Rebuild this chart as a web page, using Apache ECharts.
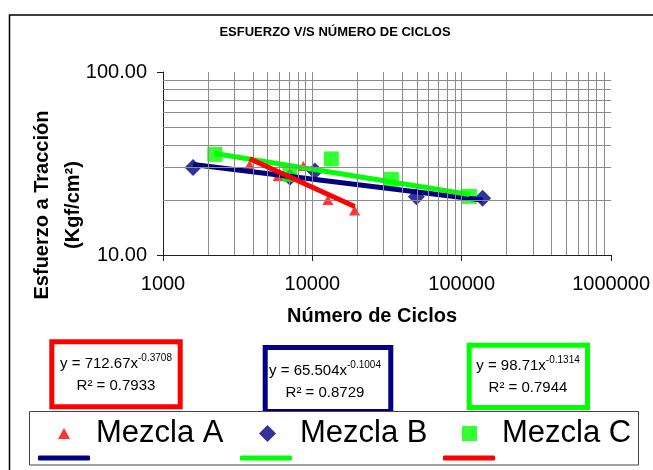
<!DOCTYPE html>
<html>
<head>
<meta charset="utf-8">
<style>
  html, body { margin: 0; padding: 0; background: #fff; }
  #chart { width: 653px; height: 470px; }
</style>
<script src="https://cdn.jsdelivr.net/npm/echarts@6/dist/echarts.min.js"></script>
</head>
<body>
<div id="chart"></div>
<script>
// Fatigue test results: tensile stress vs. number of cycles for three mixes
const cyclesA = [3800, 5900, 8700, 12700, 19200];
const stressA = [31.0, 27.0, 30.6, 20.0, 17.5];
const cyclesB = [1590, 7080, 10400, 49700, 138000];
const stressB = [30.1, 26.6, 28.8, 20.8, 20.4];
const cyclesC = [2220, 7080, 13400, 33800, 112700];
const stressC = [35.5, 27.5, 33.5, 25.9, 20.9];

// Power-law fits y = a * x^b reported for each mix
const mixNames = ['Mezcla A', 'Mezcla B', 'Mezcla C'];
const fitCoef = [712.67, 65.504, 98.71];
const fitExp = [-0.3708, -0.1004, -0.1314];
const fitR2 = ['0.7933', '0.8729', '0.7944'];

// Axis ranges / tick labels
const xTicks = [1000, 10000, 100000, 1000000];
const yTicks = [10, 100];

const FONT = "'Liberation Sans', Arial, sans-serif";
const RED = '#ff0000', NAVY = '#000080', GREEN = '#00ff00';

function pairs(xs, ys) { return xs.map((x, i) => [x, ys[i]]); }

// Trend line over the x range of a mix, from its fitted coefficients
function trend(xs, k) {
  const lo = Math.min(...xs), hi = Math.max(...xs);
  return [lo, hi].map(x => [x, fitCoef[k] * Math.pow(x, fitExp[k])]);
}

// Logarithmic grid lines (2..9 within each decade)
const xGrid = [];
for (let d = xTicks[0]; d < xTicks[xTicks.length - 1]; d *= 10) {
  for (let m = 1; m <= 9; m++) { if (d * m > xTicks[0]) xGrid.push(d * m); }
}
const yGrid = [];
for (let m = 2; m <= 9; m++) yGrid.push(yTicks[0] * m);

function eqText(k) {
  return '{b|y = ' + fitCoef[k] + 'x}{s|' + fitExp[k] + '}\n{b|R² = ' + fitR2[k] + '}';
}
const eqRich = {
  b: { fontSize: 15, lineHeight: 22, fontFamily: FONT, color: '#000' },
  s: { fontSize: 10, lineHeight: 10, verticalAlign: 'top', fontFamily: FONT, color: '#000' }
};

const legendText = (padLeft) => ({ fontSize: 31, fontFamily: FONT, color: '#000', padding: [0, 0, 0, padLeft] });
const lineLegend = (name, color, left) => ({
  data: [{ name: name, itemStyle: { color: color } }], left: left, top: 455.5, padding: 0, z: 10,
  icon: 'roundRect', itemWidth: 52, itemHeight: 5, formatter: () => '', textStyle: { fontSize: 4 }
});

const chart = echarts.init(document.getElementById('chart'), null, { renderer: 'canvas' });

const option = {
  animation: false,
  backgroundColor: '#fff',
  title: {
    text: 'ESFUERZO V/S NÚMERO DE CICLOS',
    left: 335, top: 26, padding: 0, textAlign: 'center',
    textStyle: { fontSize: 13, fontWeight: 'bold', fontFamily: FONT, color: '#000' }
  },
  grid: { left: 163, right: 41, top: 72, bottom: 215, containLabel: false },
  xAxis: {
    type: 'log', logBase: 10, min: xTicks[0], max: xTicks[xTicks.length - 1],
    name: 'Número de Ciclos', nameLocation: 'middle', nameGap: 51,
    nameTextStyle: { fontSize: 20, fontWeight: 'bold', fontFamily: FONT, color: '#000', padding: [0, 30, 0, 0] },
    axisLine: { lineStyle: { color: '#222', width: 1 } },
    axisTick: { show: true, length: 6, lineStyle: { color: '#222' } },
    axisLabel: { fontSize: 20, fontFamily: FONT, color: '#000', margin: 19,
      formatter: v => String(Math.round(v)) },
    splitLine: { show: false },
    minorTick: { show: false }
  },
  yAxis: {
    type: 'log', logBase: 10, min: yTicks[0], max: yTicks[yTicks.length - 1],
    axisLine: { show: true, lineStyle: { color: '#222', width: 1 } },
    axisTick: { show: true, length: 6, lineStyle: { color: '#222' } },
    axisLabel: { fontSize: 20, fontFamily: FONT, color: '#000', margin: 16,
      formatter: v => Number(v).toFixed(2) },
    splitLine: { show: false }
  },
  legend: [
    { data: ['Mezcla A'], left: 58, top: 418, padding: 0, z: 10, itemWidth: 12, itemHeight: 11,
      textStyle: legendText(21) },
    { data: ['Mezcla B'], left: 259, top: 418, padding: 0, z: 10, itemWidth: 17, itemHeight: 17,
      textStyle: legendText(19) },
    { data: ['Mezcla C'], left: 462, top: 418, padding: 0, z: 10, itemWidth: 15, itemHeight: 15,
      textStyle: legendText(20) },
    lineLegend('Potencial (Mezcla B)', NAVY, 38),
    lineLegend('Potencial (Mezcla C)', GREEN, 240),
    lineLegend('Potencial (Mezcla A)', RED, 443)
  ],
  graphic: [
    // outer chart frame
    { type: 'rect', shape: { x: 9.5, y: 15, width: 700, height: 500 },
      style: { fill: 'none', stroke: '#000', lineWidth: 1.5 }, silent: true, z: 0 },
    // y axis title
    { type: 'text', x: 58, y: 205, rotation: Math.PI / 2, silent: true,
      style: { text: 'Esfuerzo a Tracción\n(Kgf/cm²)', font: 'bold 20px ' + FONT, fill: '#000',
        align: 'center', verticalAlign: 'middle', lineHeight: 31 } },
    // fit equation boxes
    { type: 'rect', shape: { x: 51.8, y: 341.8, width: 128.4, height: 65 },
      style: { fill: '#fff', stroke: RED, lineWidth: 5 }, silent: true, z: 1 },
    { type: 'text', x: 116, y: 375, silent: true, z: 2,
      style: { text: eqText(0), rich: eqRich, align: 'center', verticalAlign: 'middle' } },
    { type: 'rect', shape: { x: 265.2, y: 347.5, width: 125.6, height: 64 },
      style: { fill: '#fff', stroke: NAVY, lineWidth: 5 }, silent: true, z: 1 },
    { type: 'text', x: 325, y: 382, silent: true, z: 2,
      style: { text: eqText(1), rich: eqRich, align: 'center', verticalAlign: 'middle' } },
    { type: 'rect', shape: { x: 469.2, y: 345.2, width: 118.3, height: 62.3 },
      style: { fill: '#fff', stroke: GREEN, lineWidth: 5 }, silent: true, z: 1 },
    { type: 'text', x: 528, y: 377, silent: true, z: 2,
      style: { text: eqText(2), rich: eqRich, align: 'center', verticalAlign: 'middle' } },
    // legend frame
    { type: 'rect', shape: { x: 29.5, y: 411.5, width: 609, height: 53.5 },
      style: { fill: '#fff', stroke: '#444', lineWidth: 1 }, silent: true, z: 3 }
  ],
  series: [
    {
      name: 'grid', type: 'line', data: [], silent: true, z: 1,
      markLine: {
        silent: true, symbol: ['none', 'none'], label: { show: false },
        lineStyle: { color: '#8c8c8c', width: 1, type: 'solid' },
        emphasis: { disabled: true },
        data: xGrid.map(v => ({ xAxis: v })).concat(yGrid.map(v => ({ yAxis: v })))
      }
    },
    { name: mixNames[0], type: 'scatter', data: pairs(cyclesA, stressA), symbol: 'triangle',
      symbolSize: [11, 10], itemStyle: { color: RED }, z: 2 },
    { name: mixNames[1], type: 'scatter', data: pairs(cyclesB, stressB), symbol: 'diamond',
      symbolSize: [17, 17], itemStyle: { color: NAVY }, z: 2 },
    { name: mixNames[2], type: 'scatter', data: pairs(cyclesC, stressC), symbol: 'rect',
      symbolSize: [15, 15], itemStyle: { color: GREEN }, z: 2 },
    { name: 'Potencial (Mezcla B)', type: 'line', data: trend(cyclesB, 1), showSymbol: false,
      lineStyle: { color: NAVY, width: 5 }, itemStyle: { color: NAVY }, z: 3 },
    { name: 'Potencial (Mezcla C)', type: 'line', data: trend(cyclesC, 2), showSymbol: false,
      lineStyle: { color: GREEN, width: 5 }, itemStyle: { color: GREEN }, z: 4 },
    { name: 'Potencial (Mezcla A)', type: 'line', data: trend(cyclesA, 0), showSymbol: false,
      lineStyle: { color: RED, width: 5 }, itemStyle: { color: RED }, z: 5 }
  ]
};

chart.setOption(option);
</script>
</body>
</html>
